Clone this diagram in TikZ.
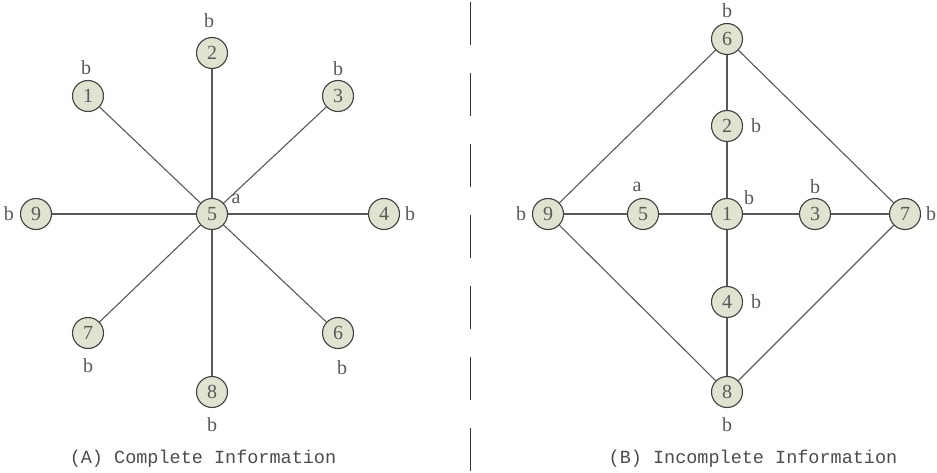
\documentclass[tikz,border=0pt]{standalone}
\usepackage{fontspec}
\setmainfont{Liberation Serif}
\newfontfamily\capfont{Liberation Mono}
\begin{document}
\begin{tikzpicture}[x=1pt,y=-1pt,
  nd/.style={circle,draw=black!75,line width=1.1pt,fill=nodefill,minimum size=31pt,inner sep=0pt,font=\fontsize{20}{20}\selectfont,text=black!65},
  lbl/.style={font=\fontsize{20}{20}\selectfont,text=black!65,inner sep=0pt},
  edge/.style={draw=black!65,line width=1.1pt},
  captext/.style={font=\capfont\fontsize{18.5}{18.5}\selectfont,text=black!70,inner sep=0pt}]
\definecolor{nodefill}{RGB}{222,228,208}
\useasboundingbox (0,0) rectangle (937,473);
% divider
\coordinate (dt) at (470,2);
\coordinate (db) at (470,473);
\draw[black!80,line width=1pt,dash pattern=on 43pt off 28pt] (dt) -- (db);
% left graph
\node[nd] (L5) at (212,214) {5};
\node[nd] (L2) at (212,53) {2};
\node[nd] (L1) at (88,96) {1};
\node[nd] (L3) at (338,96) {3};
\node[nd] (L9) at (36,214) {9};
\node[nd] (L4) at (384,214) {4};
\node[nd] (L7) at (88,333) {7};
\node[nd] (L6) at (338,333) {6};
\node[nd] (L8) at (212,392) {8};
\foreach \n in {L2,L1,L3,L9,L4,L7,L6,L8} \draw[edge] (L5) -- (\n);
\node[lbl] at (209,21) {b};
\node[lbl] at (86,68) {b};
\node[lbl] at (338,69) {b};
\node[lbl] at (9,214) {b};
\node[lbl] at (410,214) {b};
\node[lbl] at (88,366) {b};
\node[lbl] at (342,368) {b};
\node[lbl] at (212,425) {b};
\node[lbl] at (236,199) {a};
\node[captext] (capA) at (203,459) {(A) Complete Information};
% right graph
\node[nd] (R6) at (727,39) {6};
\node[nd] (R2) at (727,126) {2};
\node[nd] (R9) at (548,214) {9};
\node[nd] (R5) at (643,214) {5};
\node[nd] (R1) at (727,214) {1};
\node[nd] (R3) at (815,214) {3};
\node[nd] (R7) at (905,214) {7};
\node[nd] (R4) at (727,302) {4};
\node[nd] (R8) at (727,392) {8};
\draw[edge] (R6) -- (R2);
\draw[edge] (R2) -- (R1);
\draw[edge] (R1) -- (R4);
\draw[edge] (R4) -- (R8);
\draw[edge] (R9) -- (R5);
\draw[edge] (R5) -- (R1);
\draw[edge] (R1) -- (R3);
\draw[edge] (R3) -- (R7);
\draw[edge] (R9) -- (R6);
\draw[edge] (R6) -- (R7);
\draw[edge] (R7) -- (R8);
\draw[edge] (R8) -- (R9);
\node[lbl] at (727,11) {b};
\node[lbl] at (756,126) {b};
\node[lbl] at (521,214) {b};
\node[lbl] at (637,187) {a};
\node[lbl] at (749,198) {b};
\node[lbl] at (815,187) {b};
\node[lbl] at (931,214) {b};
\node[lbl] at (756,302) {b};
\node[lbl] at (727,425) {b};
\node[captext] (capB) at (753,459) {(B) Incomplete Information};
\end{tikzpicture}
\end{document}
